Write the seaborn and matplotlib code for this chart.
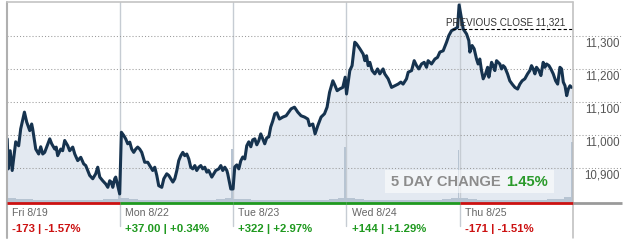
import matplotlib
matplotlib.use("Agg")
import matplotlib.pyplot as plt
import matplotlib.transforms as mtransforms
from matplotlib.patches import Rectangle
import numpy as np
import pandas as pd
import seaborn as sns

# ---------------- data ----------------
day_labels = ["Fri 8/19", "Mon 8/22", "Tue 8/23", "Wed 8/24", "Thu 8/25"]
change_pts = ["-173", "+37.00", "+322", "+144", "-171"]
change_pct = ["-1.57%", "+0.34%", "+2.97%", "+1.29%", "-1.51%"]
five_day_change = "1.45%"
prev_close = 11321
grid_vals = [10900, 11000, 11100, 11200, 11300]
grid_labels = ["10,900", "11,000", "11,100", "11,200", "11,300"]

# time in trading days since Fri open, price in index points
fri_t = [0.002, 0.011, 0.028, 0.046, 0.077, 0.103, 0.121, 0.154, 0.174, 0.201, 0.218, 0.227,
         0.254, 0.280, 0.298, 0.316, 0.333, 0.378, 0.395, 0.422, 0.435, 0.448, 0.475, 0.492,
         0.510, 0.537, 0.554, 0.581, 0.599, 0.625, 0.652, 0.678, 0.696, 0.731, 0.758, 0.784,
         0.802, 0.820, 0.846, 0.873, 0.891, 0.908, 0.921, 0.935, 0.952, 0.961, 0.979, 0.996]
fri_p = [10989, 10898, 10953, 10893, 10980, 10968, 11019, 11070, 11040, 11014, 11034, 11019,
         10958, 10943, 10965, 10943, 10948, 10989, 10974, 10958, 10964, 10938, 10958, 10953,
         10984, 10968, 10953, 10964, 10943, 10923, 10933, 10913, 10908, 10878, 10868, 10883,
         10903, 10873, 10862, 10852, 10842, 10862, 10858, 10842, 10868, 10873, 10847, 10822]

mon_t = [1.011, 1.032, 1.049, 1.067, 1.085, 1.102, 1.120, 1.138, 1.155, 1.173, 1.191, 1.217,
         1.244, 1.271, 1.288, 1.306, 1.324, 1.341, 1.368, 1.386, 1.412, 1.430, 1.466, 1.483,
         1.501, 1.518, 1.536, 1.554, 1.571, 1.589, 1.607, 1.624, 1.642, 1.660, 1.677, 1.695,
         1.713, 1.730, 1.748, 1.766, 1.783, 1.810, 1.828, 1.845, 1.872, 1.890, 1.907, 1.925,
         1.943, 1.951, 1.960, 1.978]
mon_p = [11009, 10999, 10989, 10974, 10979, 10958, 10948, 10958, 10964, 10958, 10948, 10918,
         10918, 10903, 10893, 10903, 10878, 10847, 10842, 10868, 10883, 10878, 10858, 10868,
         10893, 10923, 10938, 10948, 10938, 10943, 10928, 10903, 10898, 10908, 10893, 10903,
         10908, 10898, 10903, 10888, 10893, 10873, 10883, 10893, 10898, 10908, 10893, 10903,
         10893, 10883, 10868, 10837]

tue_t = [1.998, 2.013, 2.031, 2.049, 2.066, 2.084, 2.102, 2.119, 2.137, 2.155, 2.172, 2.190,
         2.208, 2.225, 2.243, 2.261, 2.278, 2.296, 2.314, 2.331, 2.349, 2.367, 2.385, 2.408,
         2.438, 2.467, 2.511, 2.541, 2.570, 2.599, 2.630, 2.659, 2.674, 2.703, 2.723, 2.747,
         2.776, 2.806, 2.829, 2.851, 2.880, 2.900, 2.918, 2.939, 2.968, 2.989]
tue_p = [10837, 10904, 10910, 10898, 10922, 10934, 10928, 10968, 10980, 10965, 10986, 10989,
         10971, 10983, 11004, 10989, 10974, 10992, 10995, 11025, 11043, 11065, 11068, 11049,
         11055, 11059, 11080, 11085, 11070, 11059, 11055, 11049, 11029, 11034, 11004, 11029,
         11055, 11065, 11085, 11130, 11165, 11150, 11135, 11140, 11145, 11176]

wed_t = [3.001, 3.030, 3.050, 3.074, 3.089, 3.119, 3.148, 3.163, 3.178, 3.192, 3.207, 3.227,
         3.251, 3.275, 3.295, 3.324, 3.339, 3.369, 3.399, 3.428, 3.457, 3.481, 3.501, 3.531,
         3.546, 3.576, 3.599, 3.620, 3.640, 3.664, 3.687, 3.708, 3.722, 3.752, 3.782, 3.805,
         3.826, 3.855, 3.885, 3.905, 3.929, 3.958, 3.982, 3.996]
wed_p = [11125, 11196, 11211, 11282, 11277, 11262, 11246, 11226, 11241, 11211, 11221, 11196,
         11186, 11201, 11186, 11201, 11186, 11171, 11145, 11150, 11155, 11161, 11155, 11171,
         11191, 11196, 11226, 11211, 11201, 11216, 11221, 11206, 11226, 11216, 11231, 11236,
         11252, 11256, 11282, 11302, 11317, 11322, 11327, 11395]

thu_t = [4.018, 4.032, 4.062, 4.082, 4.091, 4.111, 4.129, 4.150, 4.164, 4.179, 4.194, 4.209,
         4.230, 4.248, 4.259, 4.283, 4.297, 4.312, 4.327, 4.356, 4.371, 4.385, 4.400, 4.424,
         4.444, 4.465, 4.489, 4.513, 4.533, 4.553, 4.577, 4.601, 4.621, 4.636, 4.651, 4.666,
         4.680, 4.701, 4.719, 4.739, 4.754, 4.769, 4.790, 4.807, 4.828, 4.849, 4.867, 4.887,
         4.902, 4.917, 4.932, 4.947, 4.961, 4.976, 4.991]
thu_p = [11352, 11322, 11307, 11287, 11252, 11272, 11262, 11231, 11216, 11231, 11196, 11171,
         11186, 11206, 11176, 11221, 11211, 11196, 11226, 11216, 11201, 11211, 11206, 11186,
         11165, 11155, 11145, 11140, 11155, 11165, 11171, 11186, 11196, 11211, 11201, 11186,
         11206, 11196, 11181, 11221, 11206, 11216, 11211, 11201, 11186, 11165, 11155, 11206,
         11201, 11161, 11150, 11120, 11140, 11150, 11145]

# volume (millions of shares) in 30-minute buckets, plus closing-auction prints
vol_fri = [9, 6, 6, 5, 5, 5, 4, 5, 4, 5, 5, 6, 7]
vol_mon = [8, 6, 5, 5, 4, 4, 4, 4, 5, 4, 5, 6, 8]
vol_tue = [7, 6, 5, 5, 4, 5, 4, 4, 4, 5, 5, 6, 8]
vol_wed = [8, 6, 5, 5, 5, 4, 4, 4, 5, 5, 5, 6, 9]
vol_thu = [8, 6, 5, 5, 4, 4, 4, 5, 5, 5, 6, 7, 10]
close_vol = [16, 107, 110, 105, 121]

# ---------------- styling ----------------
sns.set_style("white")
plt.rcParams['font.family'] = ['Liberation Sans', 'DejaVu Sans']

LINE = "#16334f"
FILL = "#e3e9f1"
VOLC = "#b7c4d2"
RED = "#cc1111"
GREEN = "#1f991f"

W, H = 635, 253
L, R, T, B = 7.0, 572.7, 3.3, 203.5
fig = plt.figure(figsize=(W / 100, H / 100), dpi=100)
ax = fig.add_axes([L / W, 1 - B / H, (R - L) / W, (B - T) / H])
axv = ax.twinx()
axl = ax.twinx()

y_lo, y_hi = 10796, 11403
for a in (ax, axl):
    a.set_ylim(y_lo, y_hi)
ax.set_xlim(0, 5)
axv.set_ylim(0, 400)
for a in (ax, axv, axl):
    for s in a.spines.values():
        s.set_visible(False)
    a.set_yticks([])
    a.set_xticks([])
    a.set_xlabel("")
    a.set_ylabel("")
ax.patch.set_facecolor("white")

df = pd.DataFrame({
    "t": fri_t + mon_t + tue_t + wed_t + thu_t,
    "price": fri_p + mon_p + tue_p + wed_p + thu_p,
})

# area fill under price
ax.fill_between(df["t"], df["price"], y_lo, color=FILL, linewidth=0, zorder=1)

blend = mtransforms.blended_transform_factory(ax.transData, ax.transAxes)
blend_l = mtransforms.blended_transform_factory(axl.transData, axl.transAxes)

# day separators
for d in range(1, 5):
    ax.plot([d, d], [-0.116, 1], transform=blend, clip_on=False,
            color="#c6ccd3", lw=1.0, zorder=2)

# dotted gridlines extending under labels
for v in grid_vals:
    ax.axhline(v, xmin=0, xmax=(622 - L) / (R - L), clip_on=False,
               color="#9a9a9a", lw=0.75, ls=(0, (1, 2)), zorder=3)

# volume bars
vols = [vol_fri, vol_mon, vol_tue, vol_wed, vol_thu]
vt, vv = [], []
for d, vl in enumerate(vols):
    n = len(vl)
    vt += [d + i / n for i in range(n)]
    vv += vl
axv.bar(vt, vv, width=1 / 13, align="edge", color=VOLC, linewidth=0)
axv.bar([d + 1 - 0.009 for d in range(5)], close_vol, width=0.016, color=VOLC, linewidth=0)
axv.set_xlim(0, 5)

# price line
sns.lineplot(data=df, x="t", y="price", ax=axl, color=LINE, linewidth=2.2,
             estimator=None, sort=False)
axl.set_xlim(0, 5)
axl.set_ylim(y_lo, y_hi)
axl.set_xlabel("")
axl.set_ylabel("")
axl.set_yticks([])

# previous close
axl.plot([3.93, 5], [prev_close, prev_close], color="black", lw=0.8, ls=(0, (3, 2)), zorder=4)
axl.annotate(f"PREVIOUS CLOSE {prev_close:,}", xy=(5, prev_close), xytext=(-5.5, 5.6),
             textcoords="offset points", ha="right", va="center", fontsize=7.1, color="#333333")

# y labels on right, below gridlines
ylab_tr = mtransforms.blended_transform_factory(axl.transAxes, axl.transData)
for v, lab in zip(grid_vals, grid_labels):
    axl.annotate(lab, xy=(1, v), xycoords=ylab_tr, xytext=(34, -4.8),
                 textcoords="offset points", ha="right", va="center",
                 fontsize=8.3, color="#555555", annotation_clip=False)

# frame
axl.plot([0, 0], [-0.177, 1], transform=blend_l, clip_on=False, color="#b0b0b0", lw=1.5, zorder=6)
axl.plot([5, 5], [-0.177, 1], transform=blend_l, clip_on=False, color="#bcbcbc", lw=1.1, zorder=6)
axl.plot([0, 5], [1, 1], transform=blend_l, clip_on=False, color="#c4c4c4", lw=1.2, zorder=6)

# bottom colored day-change line
for d in range(5):
    col = RED if change_pts[d].startswith("-") else GREEN
    axl.plot([d, d + 1], [0, 0], transform=blend_l, clip_on=False, color=col, lw=2.0,
             solid_capstyle="butt", zorder=7)
axl.plot([1, (622 - L) / (R - L)], [0, 0], transform=axl.transAxes, clip_on=False,
         color="#9a9a9a", lw=2.0, solid_capstyle="butt", zorder=7)

# day labels and changes
for d in range(5):
    col = RED if change_pts[d].startswith("-") else GREEN
    axl.text(d + 0.045, -0.049, day_labels[d], transform=blend_l, ha="left", va="center",
             fontsize=7.6, color="#666666", clip_on=False)
    axl.text(d + 0.045, -0.129, f"{change_pts[d]} | {change_pct[d]}", transform=blend_l,
             ha="left", va="center", fontsize=8.2, fontweight="bold", color=col, clip_on=False)

# 5 day change box
axl.add_patch(Rectangle((0.669, 0.047), 0.298, 0.116, transform=axl.transAxes,
                        facecolor="white", alpha=0.55, edgecolor="none", zorder=8))
axl.text(0.678, 0.107, "5 DAY CHANGE", transform=axl.transAxes, ha="left", va="center",
         fontsize=10.6, fontweight="bold", color="#8c8c8c", zorder=9)
axl.text(0.957, 0.107, five_day_change, transform=axl.transAxes, ha="right", va="center",
         fontsize=10.6, fontweight="bold", color="#2a9a2a", zorder=9)

fig.savefig("out.png", dpi=100)
